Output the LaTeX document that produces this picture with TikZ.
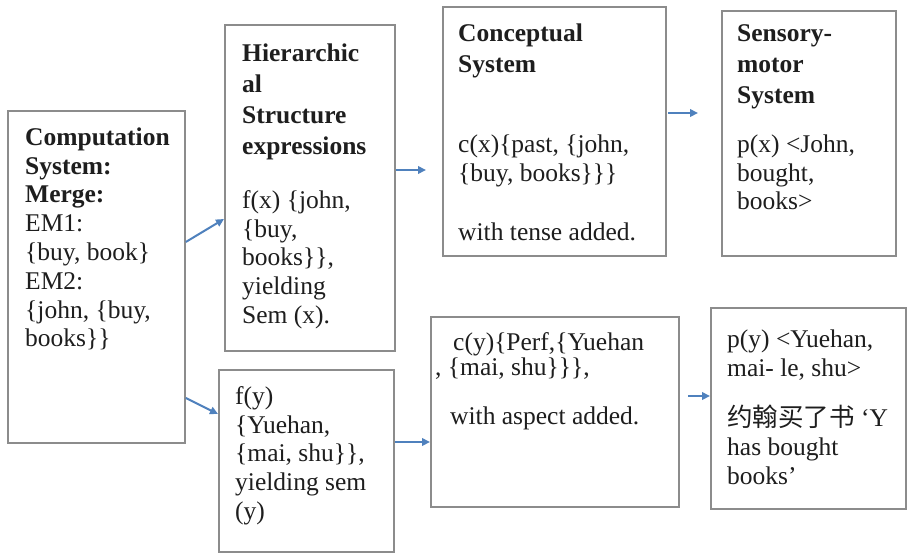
\documentclass[tikz,border=0pt]{standalone}
\usepackage{fontspec}
\setmainfont{Liberation Serif}
\newfontfamily\cjk{Noto Sans CJK SC}
\usetikzlibrary{arrows.meta}
\definecolor{arrowblue}{HTML}{4F81BD}
\definecolor{boxgray}{HTML}{8C8C8C}
\definecolor{inkgray}{HTML}{1E1E1E}

\begin{document}
\begin{tikzpicture}[x=1pt,y=-1pt,
  panel/.style={draw=boxgray, line width=1.8pt, fill=white, inner sep=0pt, anchor=north west},
  txt/.style={anchor=north west, inner sep=0pt, align=left, text=inkgray,
              font=\fontsize{25.5}{28.8}\selectfont},
  head/.style={txt, font=\fontsize{25.5}{31}\selectfont\bfseries},
  flow/.style={draw=arrowblue, line width=2pt, -{Triangle[length=8pt,width=7.5pt]}}]
  \useasboundingbox[fill=white] (0,0) rectangle (911,554);

  % boxes
  \node[panel, minimum width=177pt, minimum height=332pt] (b1) at (7,110) {};
  \node[panel, minimum width=170pt, minimum height=326pt] (b2) at (224,24) {};
  \node[panel, minimum width=223pt, minimum height=249pt] (b3) at (442,6) {};
  \node[panel, minimum width=174pt, minimum height=245pt] (b4) at (721,10) {};
  \node[panel, minimum width=175pt, minimum height=182pt] (b5) at (218,369) {};
  \node[panel, minimum width=248pt, minimum height=190pt] (b6) at (430,316) {};
  \node[panel, minimum width=195pt, minimum height=201pt] (b7) at (710,307) {};

  % computation system
  \node[txt] (t1) at (25,125) {\strut\textbf{Computation}\\ \textbf{System:}\\ \textbf{Merge:}\\
    EM1:\\ \{buy, book\}\\ EM2:\\ \{john, \{buy,\\ books\}\}};

  % hierarchical structure
  \node[head] (h2) at (242,40) {\strut Hierarchic\\ al\\ Structure\\ expressions};
  \node[txt] (t2) at (242,188) {\strut f(x) \{john,\\ \{buy,\\ books\}\},\\ yielding\\ Sem (x).};

  % conceptual system
  \node[head] (h3) at (458,20) {\strut Conceptual\\ System};
  \node[txt] (t3) at (458,132) {\strut c(x)\{past, \{john,\\ \{buy, books\}\}\}};
  \node[txt] (u3) at (458,220) {\strut with tense added.};

  % sensory-motor system
  \node[head] (h4) at (737,20) {\strut Sensory-\\ motor\\ System};
  \node[txt] (t4) at (737,132) {\strut p(x) <John,\\ bought,\\ books>};

  % lower row
  \node[txt] (t5) at (235,384) {\strut f(y)\\ \{Yuehan,\\ \{mai, shu\}\},\\ yielding sem\\ (y)};
  \node[txt] (t6) at (453,330) {\strut c(y)\{Perf,\{Yuehan};
  \node[txt] (u6) at (435,355) {\strut , \{mai, shu\}\}\},};
  \node[txt] (v6) at (450,404) {\strut with aspect added.};
  \node[txt] (t7) at (727,327) {\strut p(y) <Yuehan,\\ mai- le, shu>};
  \node[txt] (u7) at (727,405) {\strut{\cjk\fontsize{25.5}{28.8}\selectfont 约翰买了书} ‘Y\\ has bought\\ books’};

  % connectors
  \coordinate (e3) at (426,170);
  \coordinate (s4) at (668,113);
  \coordinate (e4) at (698,113);
  \coordinate (s7) at (688,396);
  \draw[flow] (b1.east |- 0,242) -- (b2.west |- 0,219);
  \draw[flow] (b1.east |- 0,398) -- (b5.west |- 0,414);
  \draw[flow] (b2.east |- 0,170) -- (e3);
  \draw[flow] (s4) -- (e4);
  \draw[flow] (b5.east |- 0,442) -- (b6.west |- 0,442);
  \draw[flow] (s7) -- (b7.west |- 0,396);
\end{tikzpicture}
\end{document}
